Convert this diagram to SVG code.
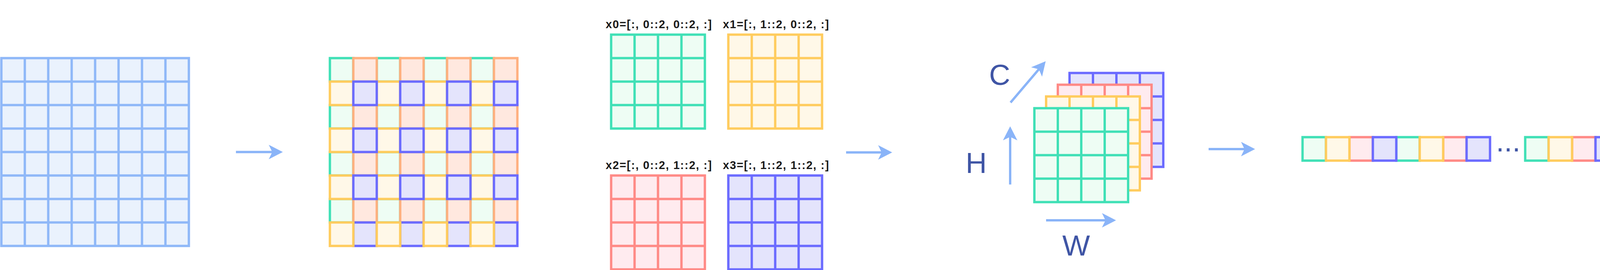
<svg xmlns="http://www.w3.org/2000/svg" xmlns:xlink="http://www.w3.org/1999/xlink" width="4149" height="690" viewBox="0 0 4149 690">
<style>
.blue{fill:#eaf2fd;stroke:#8fb8f8;stroke-width:6}
.gr{fill:#eefdf4;stroke:#40e0b6;stroke-width:6}
.ye{fill:#fff8e8;stroke:#ffcc5e;stroke-width:6}
.rd{fill:#ffebef;stroke:#ff8a86;stroke-width:6}
.pu{fill:#e4e4fc;stroke:#6b6bff;stroke-width:6}
.or{fill:#ffe8df;stroke:#ffb07f;stroke-width:6}
.arr{fill:none;stroke:#8ab4f8;stroke-width:6;marker-end:url(#ah)}
.lbl{font-family:"Liberation Sans",Arial,Helvetica,sans-serif;font-size:29px;font-weight:bold;letter-spacing:1.6px;fill:#1a1a1a;text-anchor:middle}
.axis{font-family:"Liberation Sans",Arial,Helvetica,sans-serif;font-size:75px;fill:#3f55a5;text-anchor:middle}
</style>
<defs>
<marker id="ah" markerUnits="userSpaceOnUse" markerWidth="37" markerHeight="38" viewBox="0 0 37 38" refX="12" refY="18.5" orient="auto">
<path d="M0,0 L36,18.5 L0,37 L9,18.5 Z" fill="#8ab4f8"/>
</marker>
<rect id="cell" x="0" y="0" width="60" height="60"/>
<g id="g4">
<rect x="0" y="0" width="240" height="240"/>
<path d="M60,0V240M120,0V240M180,0V240M0,60H240M0,120H240M0,180H240"/>
</g>
<g id="g8">
<rect x="0" y="0" width="480" height="480"/>
<path d="M60,0V480M120,0V480M180,0V480M240,0V480M300,0V480M360,0V480M420,0V480M0,60H480M0,120H480M0,180H480M0,240H480M0,300H480M0,360H480M0,420H480"/>
</g>
</defs>
<rect width="4149" height="690" fill="#ffffff"/>

<g id="input-grid">
<use xlink:href="#g8" href="#g8" class="blue" x="3.5" y="148.5"/>
</g>

<g id="interleaved-grid" transform="translate(844.5,148.5)">
<g class="gr">
<use href="#cell" x="0" y="0"/><use href="#cell" x="120" y="0"/><use href="#cell" x="240" y="0"/><use href="#cell" x="360" y="0"/>
<use href="#cell" x="0" y="120"/><use href="#cell" x="120" y="120"/><use href="#cell" x="240" y="120"/><use href="#cell" x="360" y="120"/>
<use href="#cell" x="0" y="240"/><use href="#cell" x="120" y="240"/><use href="#cell" x="240" y="240"/><use href="#cell" x="360" y="240"/>
<use href="#cell" x="0" y="360"/><use href="#cell" x="120" y="360"/><use href="#cell" x="240" y="360"/><use href="#cell" x="360" y="360"/>
</g>
<g class="or">
<use href="#cell" x="60" y="0"/><use href="#cell" x="180" y="0"/><use href="#cell" x="300" y="0"/><use href="#cell" x="420" y="0"/>
<use href="#cell" x="60" y="120"/><use href="#cell" x="180" y="120"/><use href="#cell" x="300" y="120"/><use href="#cell" x="420" y="120"/>
<use href="#cell" x="60" y="240"/><use href="#cell" x="180" y="240"/><use href="#cell" x="300" y="240"/><use href="#cell" x="420" y="240"/>
<use href="#cell" x="60" y="360"/><use href="#cell" x="180" y="360"/><use href="#cell" x="300" y="360"/><use href="#cell" x="420" y="360"/>
</g>
<g class="ye">
<use href="#cell" x="0" y="60"/><use href="#cell" x="120" y="60"/><use href="#cell" x="240" y="60"/><use href="#cell" x="360" y="60"/>
<use href="#cell" x="0" y="180"/><use href="#cell" x="120" y="180"/><use href="#cell" x="240" y="180"/><use href="#cell" x="360" y="180"/>
<use href="#cell" x="0" y="300"/><use href="#cell" x="120" y="300"/><use href="#cell" x="240" y="300"/><use href="#cell" x="360" y="300"/>
</g>
<g class="pu">
<use href="#cell" x="60" y="60"/><use href="#cell" x="180" y="60"/><use href="#cell" x="300" y="60"/><use href="#cell" x="420" y="60"/>
<use href="#cell" x="60" y="180"/><use href="#cell" x="180" y="180"/><use href="#cell" x="300" y="180"/><use href="#cell" x="420" y="180"/>
<use href="#cell" x="60" y="300"/><use href="#cell" x="180" y="300"/><use href="#cell" x="300" y="300"/><use href="#cell" x="420" y="300"/>
<use href="#cell" x="60" y="420"/><use href="#cell" x="180" y="420"/><use href="#cell" x="300" y="420"/><use href="#cell" x="420" y="420"/>
</g>
<g class="ye">
<use href="#cell" x="0" y="420"/><use href="#cell" x="120" y="420"/><use href="#cell" x="240" y="420"/><use href="#cell" x="360" y="420"/>
</g>
</g>

<g id="x0">
<text class="lbl" x="1687" y="71.5">x0=[:, 0::2, 0::2, :]</text>
<use href="#g4" class="gr" x="1564.5" y="88.5"/>
</g>
<g id="x1">
<text class="lbl" x="1987" y="71.5">x1=[:, 1::2, 0::2, :]</text>
<use href="#g4" class="ye" x="1864.5" y="88.5"/>
</g>
<g id="x2">
<text class="lbl" x="1687" y="431.5">x2=[:, 0::2, 1::2, :]</text>
<use href="#g4" class="rd" x="1564.5" y="448.5"/>
</g>
<g id="x3">
<text class="lbl" x="1987" y="431.5">x3=[:, 1::2, 1::2, :]</text>
<use href="#g4" class="pu" x="1864.5" y="448.5"/>
</g>

<g id="stack">
<use href="#g4" class="pu" x="2738" y="186.5"/>
<use href="#g4" class="rd" x="2708" y="216.5"/>
<use href="#g4" class="ye" x="2678" y="246.5"/>
<use href="#g4" class="gr" x="2648" y="276.5"/>
</g>

<g id="axis-labels">
<text class="axis" x="2559" y="217">C</text>
<text class="axis" x="2499" y="442">H</text>
<text class="axis" x="2755" y="653">W</text>
</g>

<g id="flattened-row" transform="translate(3334.5,350.5)">
<g class="gr"><use href="#cell" x="0" y="0"/><use href="#cell" x="240" y="0"/><use href="#cell" x="570" y="0"/></g>
<g class="rd"><use href="#cell" x="120" y="0"/><use href="#cell" x="360" y="0"/><use href="#cell" x="690" y="0"/></g>
<g class="ye"><use href="#cell" x="60" y="0"/><use href="#cell" x="300" y="0"/><use href="#cell" x="630" y="0"/></g>
<g class="pu"><use href="#cell" x="180" y="0"/><use href="#cell" x="420" y="0"/><use href="#cell" x="750" y="0"/></g>
</g>
<g id="ellipsis">
<text class="axis" x="3861" y="387">...</text>
</g>

<g id="connectors">
<path class="arr" d="M604,388.5H700"/>
<path class="arr" d="M2166,389.5H2260"/>
<path class="arr" d="M3094,381H3189"/>
<path class="arr" d="M2586,471.5V346.8"/>
<path class="arr" d="M2678,563H2833"/>
<path class="arr" d="M2587,262L2661.4,174.8"/>
</g>
</svg>
